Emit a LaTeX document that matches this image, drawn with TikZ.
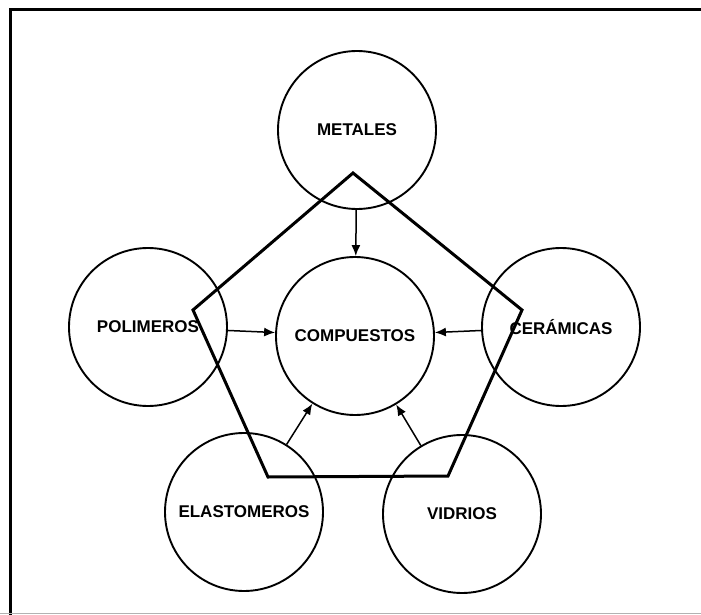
\documentclass[tikz,border=0pt]{standalone}
\usepackage{fontspec}
\setmainfont{Liberation Sans}
\usetikzlibrary{arrows.meta,positioning}

\begin{document}
\begin{tikzpicture}[x=1pt, y=-1pt,
  mat/.style={draw, circle, line width=1.9pt, minimum size=158pt, inner sep=0pt, align=center, font=\bfseries\fontsize{17}{19}\selectfont},
  arr/.style={-{Latex[length=11pt, width=9pt]}, line width=1.5pt},
  penta/.style={line width=3pt, line join=miter}
]
\fill[white] (0,0) rectangle (701,615);
\useasboundingbox (0,0) rectangle (701,615);
\draw[line width=3pt] (10,615) -- (10,10) -- (701,10);
\draw[gray!60, line width=1pt] (0,613.5) -- (701,613.5);

\node[mat] (metales) at (357,130) {METALES};
\node[mat] (comp) at (355,336) {COMPUESTOS};
\node[mat] (polim) at (148,327) {POLIMEROS};
\node[mat] (ceram) at (561,327) {CERÁMICAS};
\node[mat] (elast) at (244,512) {ELASTOMEROS};
\node[mat] (vidr) at (462,514) {VIDRIOS};

\coordinate (p1) at (353,173);
\coordinate (p2) at (522,310);
\coordinate (p3) at (448,476);
\coordinate (p4) at (268,477);
\coordinate (p5) at (193,310);
\draw[penta] (p1) -- (p2) -- (p3) -- (p4) -- (p5) -- cycle;

\draw[arr] (metales) -- (comp);
\draw[arr] (polim) -- (comp);
\draw[arr] (ceram) -- (comp);
\draw[arr] (elast) -- (comp);
\draw[arr] (vidr) -- (comp);
\end{tikzpicture}
\end{document}
